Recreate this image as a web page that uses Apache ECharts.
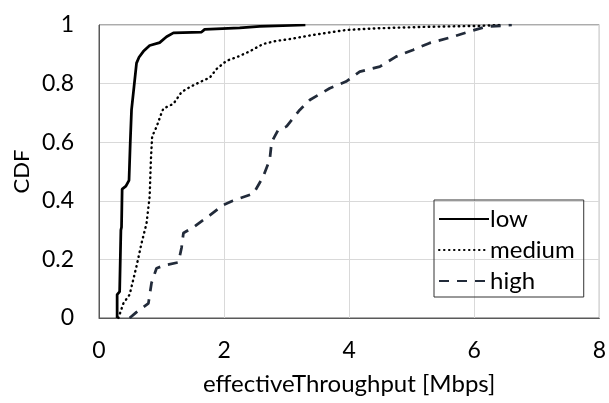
<!DOCTYPE html>
<html><head><meta charset="utf-8">
<script src="https://cdn.jsdelivr.net/npm/echarts@6/dist/echarts.min.js"></script>
<style>html,body{margin:0;padding:0;background:#fff}#c{width:609px;height:403px}</style>
</head><body><div id="c"></div>
<script>
var seriesNames = ['low', 'medium', 'high'];
var xTicks = [0, 2, 4, 6, 8];
var yTicks = [0, 0.2, 0.4, 0.6, 0.8, 1];
var lowData = [[0.29,0],[0.29,0.08],[0.33,0.09],[0.35,0.30],[0.36,0.31],[0.37,0.44],[0.43,0.45],[0.48,0.47],[0.50,0.60],[0.52,0.71],[0.56,0.79],[0.60,0.87],[0.64,0.89],[0.71,0.91],[0.81,0.93],[0.97,0.94],[1.08,0.96],[1.19,0.973],[1.64,0.976],[1.69,0.985],[2.25,0.99],[2.57,0.995],[3.3,1.0]];
var mediumData = [[0.31,0],[0.39,0.05],[0.49,0.08],[0.60,0.177],[0.68,0.255],[0.76,0.323],[0.81,0.414],[0.83,0.54],[0.85,0.62],[0.92,0.652],[1.0,0.70],[1.03,0.715],[1.19,0.731],[1.32,0.771],[1.45,0.788],[1.66,0.81],[1.77,0.82],[1.88,0.85],[2.04,0.878],[2.2,0.89],[2.41,0.91],[2.62,0.935],[2.84,0.946],[3.05,0.952],[3.42,0.966],[3.95,0.983],[4.49,0.989],[5.28,0.994],[6.08,0.997],[6.4,1.0]];
var highData = [[0.49,0],[0.60,0.02],[0.79,0.05],[0.84,0.12],[0.92,0.17],[1.05,0.18],[1.27,0.19],[1.32,0.24],[1.35,0.29],[1.51,0.31],[1.77,0.35],[1.98,0.385],[2.14,0.40],[2.47,0.425],[2.62,0.48],[2.73,0.54],[2.76,0.60],[2.86,0.64],[3.0,0.654],[3.21,0.71],[3.37,0.744],[3.69,0.784],[3.95,0.807],[4.17,0.841],[4.49,0.858],[4.75,0.892],[5.02,0.915],[5.28,0.938],[5.66,0.96],[5.97,0.981],[6.19,0.994],[6.6,1.0]];

var FONT = 'Lato';
var chart = echarts.init(document.getElementById('c'), null, {renderer: 'canvas'});
chart.setOption({
  animation: false,
  backgroundColor: '#fff',
  grid: {left: 99, right: 9, top: 25, bottom: 85, show: true, borderColor: '#595959', borderWidth: 1, backgroundColor: 'transparent'},
  legend: {
    orient: 'vertical', left: 434, top: 200,
    data: seriesNames,
    borderColor: '#333', borderWidth: 1, padding: [7, 9, 4, 4],
    itemWidth: 50, itemHeight: 14, itemGap: 7, itemStyle: {opacity: 0},
    textStyle: {fontFamily: FONT, fontSize: 24, color: '#000', padding: [0, 0, 0, -4]}
  },
  xAxis: {
    type: 'value', min: xTicks[0], max: xTicks[xTicks.length - 1], interval: 2,
    name: 'effectiveThroughput [Mbps]', nameLocation: 'middle', nameGap: 54,
    nameTextStyle: {fontFamily: FONT, fontSize: 24, color: '#000'},
    axisLine: {show: true, lineStyle: {color: '#595959', width: 1}},
    axisTick: {show: false},
    axisLabel: {fontFamily: FONT, fontSize: 23, color: '#000', margin: 21},
    splitLine: {show: true, lineStyle: {color: '#d9d9d9', width: 1}}
  },
  yAxis: {
    type: 'value', min: yTicks[0], max: yTicks[yTicks.length - 1], interval: 0.2,
    name: 'CDF', nameLocation: 'middle', nameGap: 66, nameRotate: 90, nameMoveOverlap: false,
    nameTextStyle: {fontFamily: FONT, fontSize: 22, color: '#000'},
    axisLine: {show: true, lineStyle: {color: '#595959', width: 1}},
    axisTick: {show: false},
    axisLabel: {fontFamily: FONT, fontSize: 23, color: '#000', margin: 25,
      formatter: function (v) { return String(Math.round(v * 10) / 10); }},
    splitLine: {show: true, lineStyle: {color: '#d9d9d9', width: 1}}
  },
  series: [
    {name: seriesNames[0], type: 'line', data: lowData, symbol: 'none', color: '#000',
      lineStyle: {color: '#000', width: 2.75, type: 'solid'}},
    {name: seriesNames[1], type: 'line', data: mediumData, symbol: 'none', color: '#000',
      lineStyle: {color: '#000', width: 2.4, type: [0.5, 4.5], cap: 'round'}},
    {name: seriesNames[2], type: 'line', data: highData, symbol: 'none', color: '#222b3a',
      lineStyle: {color: '#222b3a', width: 2.75, type: [10, 8]}}
  ]
});
</script></body></html>
